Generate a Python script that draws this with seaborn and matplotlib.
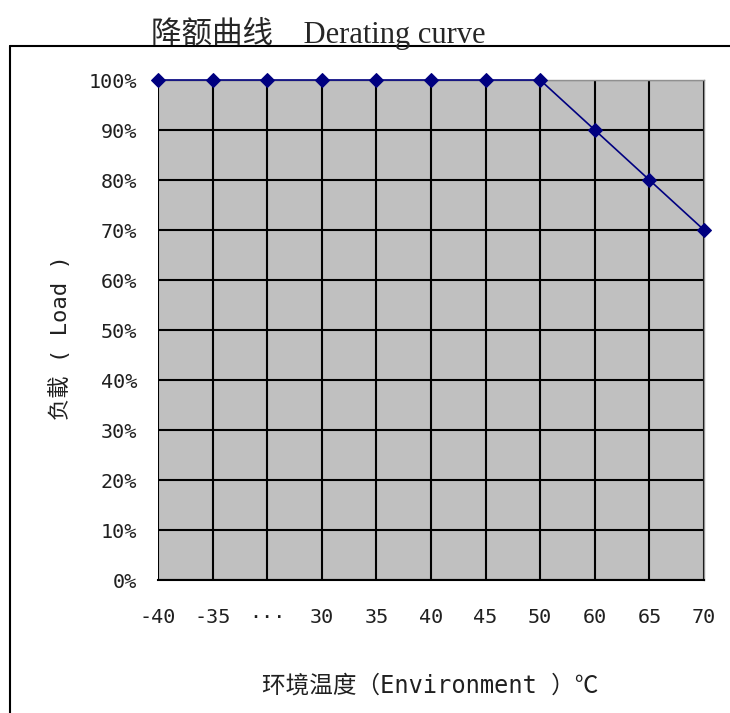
import matplotlib
matplotlib.use("Agg")
import matplotlib.pyplot as plt
import seaborn as sns
import numpy as np
from matplotlib.lines import Line2D

temp_labels = ["-40", "-35", "···", "30", "35", "40", "45", "50", "60", "65", "70"]
load_pct = [100, 100, 100, 100, 100, 100, 100, 100, 90, 80, 70]
y_ticks = [0, 10, 20, 30, 40, 50, 60, 70, 80, 90, 100]

sns.set_theme(style="white")
plt.rcParams['font.family'] = ['DejaVu Sans Mono', 'Noto Sans CJK SC', 'DejaVu Sans']

W, H = 730, 713
fig = plt.figure(figsize=(W / 100, H / 100), dpi=100)
fig.patch.set_facecolor("white")
ax = fig.add_axes([158 / W, 1 - 580 / H, (704 - 158) / W, (580 - 80) / H])
ax.set_facecolor("#C0C0C0")

pos = np.arange(len(temp_labels))
sns.lineplot(x=pos, y=load_pct, ax=ax, color="#000080", linewidth=1.2,
             marker="D", markersize=7, markeredgecolor="#000080",
             markerfacecolor="#000080", zorder=5, clip_on=False)

ax.set_xlim(0, len(temp_labels) - 1)
ax.set_ylim(0, 100)
ax.set_xticks(pos)
ax.set_xticklabels(temp_labels)
ax.set_yticks(y_ticks)
ax.set_yticklabels([f"{v}%" for v in y_ticks])
ax.tick_params(axis="both", length=0, labelsize=14.5, colors="#202020")
ax.tick_params(axis="y", pad=15)
ax.tick_params(axis="x", pad=20)
ax.grid(True, color="black", linewidth=1.5)
ax.set_axisbelow(True)
for s in ["top", "right"]:
    ax.spines[s].set_color("#909090")
    ax.spines[s].set_linewidth(1.0)
ax.spines["left"].set_visible(False)
ax.spines["bottom"].set_color("black")
ax.spines["bottom"].set_linewidth(1.5)
ax.set_xlabel("")
ax.set_ylabel("")

fig.text(318 / W, 1 - 33 / H, "降额曲线　Derating curve", ha="center", va="center",
         fontsize=22, family=['Liberation Serif', 'Noto Sans CJK SC'])
fig.text(60 / W, 1 - 338 / H, "负載 ( Load )", ha="center", va="center",
         rotation=90, fontsize=16, color="#202020",
         family=['DejaVu Sans Mono', 'Noto Sans CJK SC'])
fig.text(430 / W, 1 - 686 / H, "环境温度（Environment ）℃", ha="center", va="center",
         fontsize=17, color="#202020",
         family=['DejaVu Sans Mono', 'Noto Sans CJK SC'])

# outer frame
fig.add_artist(Line2D([10 / W, 10 / W], [0, 1 - 46 / H], transform=fig.transFigure,
                      color="black", linewidth=1.5))
fig.add_artist(Line2D([10 / W, 1], [1 - 46 / H, 1 - 46 / H], transform=fig.transFigure,
                      color="black", linewidth=1.5))

fig.savefig("out.png", dpi=100)
